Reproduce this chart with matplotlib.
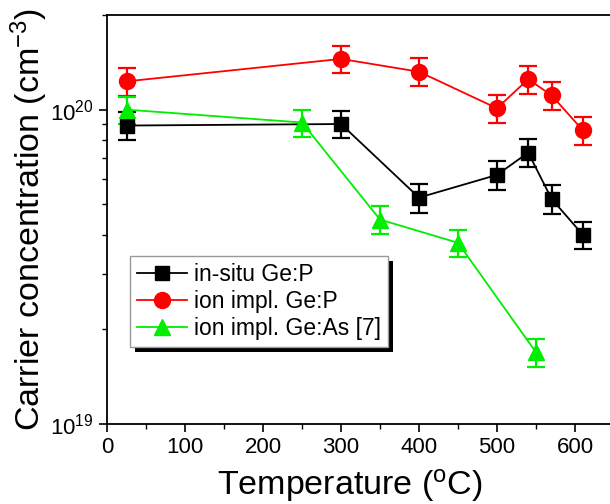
import matplotlib
matplotlib.use("Agg")
import matplotlib.pyplot as plt
from matplotlib.patches import Rectangle
from matplotlib.ticker import LogLocator, MultipleLocator, NullFormatter

plt.rcParams['font.family'] = ['Liberation Sans', 'DejaVu Sans']
plt.rcParams['mathtext.fontset'] = 'custom'
plt.rcParams['mathtext.rm'] = 'Liberation Sans'
plt.rcParams['mathtext.it'] = 'Liberation Sans:italic'
plt.rcParams['mathtext.bf'] = 'Liberation Sans:bold'

# Data
insitu_T = [25, 300, 400, 500, 540, 570, 610]
insitu_n = [8.9e19, 9.0e19, 5.25e19, 6.2e19, 7.3e19, 5.2e19, 4.0e19]
insitu_err = [0.9e19, 0.9e19, 0.55e19, 0.65e19, 0.75e19, 0.55e19, 0.4e19]

impl_P_T = [25, 300, 400, 500, 540, 570, 610]
impl_P_n = [1.23e20, 1.45e20, 1.32e20, 1.01e20, 1.25e20, 1.11e20, 8.6e19]
impl_P_err = [1.25e19, 1.45e19, 1.35e19, 1.05e19, 1.25e19, 1.1e19, 0.9e19]

impl_As_T = [25, 250, 350, 450, 550]
impl_As_n = [1.0e20, 9.1e19, 4.47e19, 3.77e19, 1.69e19]
impl_As_err = [1.0e19, 0.9e19, 0.45e19, 0.38e19, 0.17e19]

labels = ['in-situ Ge:P', 'ion impl. Ge:P', 'ion impl. Ge:As [7]']
colors = ['black', '#ff0000', '#00ee00']

fig = plt.figure(figsize=(6.10, 5.04), dpi=100)
ax = fig.add_axes([107/610, 80/504, 507/610, 409/504])

series = [
    (insitu_T, insitu_n, insitu_err, 's', 10.5),
    (impl_P_T, impl_P_n, impl_P_err, 'o', 11.5),
    (impl_As_T, impl_As_n, impl_As_err, '^', 12),
]
handles = []
for (T, n, e, m, ms), c, lab in zip(series, colors, labels):
    h = ax.errorbar(T, n, yerr=e, color=c, marker=m, markersize=ms,
                    linewidth=1.3, elinewidth=1.6, capsize=6.5, capthick=1.6,
                    label=lab, markeredgecolor=c, markerfacecolor=c)
    handles.append(h[0])

ax.set_yscale('log')
ax.set_xlim(0, 650)
ax.set_ylim(1e19, 2e20)
ax.xaxis.set_major_locator(MultipleLocator(100))
ax.xaxis.set_minor_locator(MultipleLocator(50))
ax.yaxis.set_major_locator(LogLocator(base=10))
ax.yaxis.set_minor_locator(LogLocator(base=10, subs=range(2, 10)))
ax.yaxis.set_minor_formatter(NullFormatter())

ax.tick_params(axis='both', which='major', direction='out', length=6, width=1.2,
               labelsize=16, top=False, right=False)
ax.tick_params(axis='both', which='minor', direction='out', length=3.5, width=1.0,
               top=False, right=False)
for s in ax.spines.values():
    s.set_linewidth(1.3)
ax.spines['right'].set_visible(False)

ax.set_xlabel('Temperature ($^{\\mathrm{o}}$C)', fontsize=24.5)
ax.xaxis.set_label_coords((350 - 107) / 507, -0.105)
ax.set_ylabel('Carrier concentration (cm$^{-3}$)', fontsize=24.5, labelpad=0)

leg = ax.legend(handles=handles, labels=labels, loc='upper left',
                bbox_to_anchor=(0.045, 0.411), borderaxespad=0,
                fontsize=16.5, frameon=True, fancybox=False, handlelength=2.2,
                handletextpad=0.3, labelspacing=0.18, borderpad=0.3,
                framealpha=1, edgecolor='#999999')
leg.get_frame().set_linewidth(1.0)
leg.set_zorder(6)

fig.canvas.draw()
bb = leg.get_window_extent()
off = 5
inv = ax.transAxes.inverted()
(x0, y0) = inv.transform((bb.x0 + off, bb.y0 - off))
(x1, y1) = inv.transform((bb.x1 + off, bb.y1 - off))
ax.add_patch(Rectangle((x0, y0), x1 - x0, y1 - y0, transform=ax.transAxes,
                       facecolor='black', edgecolor='none', zorder=5.5, clip_on=False))

fig.savefig('out.png', dpi=100)
